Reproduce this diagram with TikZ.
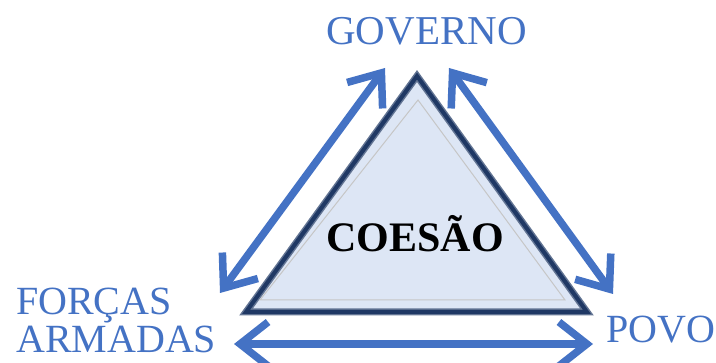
\documentclass[tikz,border=0pt]{standalone}
\usepackage{fontspec}
\setmainfont{Liberation Serif}
\usetikzlibrary{arrows.meta}
\definecolor{txtblue}{HTML}{4472C4}
\definecolor{arrblue}{HTML}{4472C4}
\definecolor{navy}{HTML}{1F3864}
\definecolor{trifill}{HTML}{DDE6F5}
\begin{document}
\begin{tikzpicture}[x=1pt,y=-1pt,
  lbl/.style={inner sep=0pt, text=txtblue, font=\fontsize{40}{40}\selectfont},
  arr/.style={draw=arrblue, line width=7.5pt,
    {Straight Barb[length=28pt,width=44pt]}-{Straight Barb[length=28pt,width=44pt]}}]
\useasboundingbox (0,0) rectangle (716,363);
% triangle
\coordinate (A) at (417,76);
\coordinate (B) at (246,312);
\coordinate (C) at (587,312);
\fill[trifill] (A) -- (B) -- (C) -- cycle;
\draw[navy!70, line width=7pt, line join=miter] (A) -- (B) -- (C) -- cycle;
\draw[navy, line width=4pt, line join=miter] (A) -- (B) -- (C) -- cycle;
\draw[gray!45, line width=1pt] (418,100) -- (260,300) -- (565,300) -- cycle;
\node[inner sep=0pt, anchor=base, font=\fontsize{42}{42}\selectfont\bfseries] (coesao) at (415,252) {COESÃO};
% labels
\node[lbl, anchor=base west, font=\fontsize{41}{41}\selectfont] (gov) at (326,45) {GOVERNO};
\node[lbl, anchor=base west] (forcas) at (16,315) {FORÇAS};
\node[lbl, anchor=base west] (armadas) at (16,353) {ARMADAS};
\node[lbl, anchor=base west] (povo) at (606,343) {POVO};
% arrow ends
\coordinate (l1) at (385,68);
\coordinate (l2) at (220,293);
\coordinate (r1) at (449,68);
\coordinate (r2) at (613,294);
\coordinate (b1) at (234,344);
\coordinate (b2) at (593,344);
\draw[arr] (l1) -- (l2);
\draw[arr] (r1) -- (r2);
\draw[arr] (b1) -- (b2);
\end{tikzpicture}
\end{document}
